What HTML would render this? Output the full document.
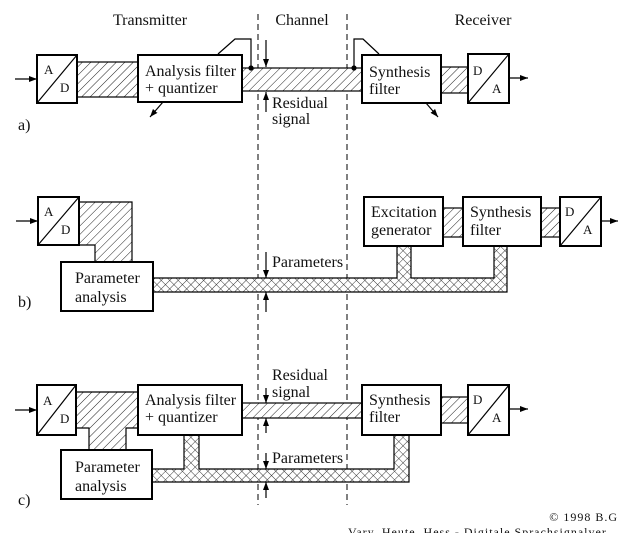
<!DOCTYPE html>
<html><head><meta charset="utf-8"><style>
html,body{margin:0;padding:0;background:#fff;}
svg{display:block;}
text{font-family:"Liberation Serif",serif;fill:#111;}
</style></head><body>
<svg width="618" height="533" viewBox="0 0 618 533" xmlns="http://www.w3.org/2000/svg">
<defs>
<pattern id="h" width="6" height="6" patternUnits="userSpaceOnUse" patternTransform="rotate(45)">
<rect width="6" height="6" fill="#fff"/><line x1="0" y1="0" x2="0" y2="6" stroke="#222" stroke-width="1"/></pattern>
<pattern id="x" width="6" height="6" patternUnits="userSpaceOnUse" patternTransform="rotate(45)">
<rect width="6" height="6" fill="#fff"/><line x1="0" y1="0" x2="0" y2="6" stroke="#222" stroke-width="0.9"/><line x1="0" y1="0" x2="6" y2="0" stroke="#222" stroke-width="0.9"/></pattern>
<marker id="ar" markerWidth="8" markerHeight="6" refX="8" refY="3" orient="auto" markerUnits="userSpaceOnUse"><path d="M0,0 L8,3 L0,6 z" fill="#000"/></marker>
</defs>

<text x="150" y="25" font-size="16" text-anchor="middle">Transmitter</text>
<text x="302" y="25" font-size="16" text-anchor="middle">Channel</text>
<text x="483" y="25" font-size="16" text-anchor="middle">Receiver</text>

<line x1="258" y1="14" x2="258" y2="505" stroke="#000" stroke-width="1" stroke-dasharray="6,4"/>
<line x1="347" y1="14" x2="347" y2="505" stroke="#000" stroke-width="1" stroke-dasharray="6,4"/>

<g stroke="#000" stroke-width="1.2">
<!-- a -->
<rect x="77" y="62" width="62" height="35" fill="url(#h)"/>
<rect x="242" y="68" width="120" height="23" fill="url(#h)"/>
<rect x="441" y="67" width="27" height="26" fill="url(#h)"/>
<rect x="37" y="55" width="40" height="48" fill="#fff" stroke-width="2"/>
<line x1="37" y1="103" x2="77" y2="55"/>
<rect x="138" y="55" width="104" height="47" fill="#fff" stroke-width="2"/>
<rect x="362" y="55" width="79" height="48" fill="#fff" stroke-width="2"/>
<rect x="468" y="54" width="41" height="49" fill="#fff" stroke-width="2"/>
<line x1="468" y1="103" x2="509" y2="54"/>
<line x1="15" y1="79" x2="37" y2="79" marker-end="url(#ar)"/>
<line x1="509" y1="78" x2="528" y2="78" marker-end="url(#ar)"/>
<polyline points="218,54 235,39 251,39 251,68" fill="none"/>
<circle cx="251" cy="68" r="2" fill="#000"/>
<polyline points="354,68 354,39 363,39 379,54" fill="none"/>
<circle cx="354" cy="68" r="2" fill="#000"/>
<line x1="163" y1="102" x2="150" y2="117" marker-end="url(#ar)"/>
<line x1="426" y1="103" x2="438" y2="117" marker-end="url(#ar)"/>
<line x1="266" y1="40" x2="266" y2="67" marker-end="url(#ar)"/>
<line x1="266" y1="112" x2="266" y2="92" marker-end="url(#ar)"/>

<!-- b -->
<path d="M79,202 H132 V262 H95 V245 H79 Z" fill="url(#h)"/>
<path d="M153,278 H397 V245 H411 V278 H494 V245 H507 V292 H153 Z" fill="url(#x)"/>
<rect x="443" y="208" width="20" height="29" fill="url(#h)"/>
<rect x="541" y="208" width="19" height="29" fill="url(#h)"/>
<rect x="38" y="197" width="41" height="48" fill="#fff" stroke-width="2"/>
<line x1="38" y1="245" x2="79" y2="197"/>
<rect x="61" y="262" width="92" height="49" fill="#fff" stroke-width="2"/>
<rect x="364" y="197" width="79" height="49" fill="#fff" stroke-width="2"/>
<rect x="463" y="197" width="78" height="49" fill="#fff" stroke-width="2"/>
<rect x="560" y="197" width="41" height="49" fill="#fff" stroke-width="2"/>
<line x1="560" y1="246" x2="601" y2="197"/>
<line x1="16" y1="221" x2="38" y2="221" marker-end="url(#ar)"/>
<line x1="601" y1="221" x2="618" y2="221" marker-end="url(#ar)"/>
<line x1="266" y1="252" x2="266" y2="278" marker-end="url(#ar)"/>
<line x1="266" y1="312" x2="266" y2="292" marker-end="url(#ar)"/>

<!-- c -->
<path d="M76,392 H138 V428 H126 V450 H89 V428 H76 Z" fill="url(#h)"/>
<rect x="241" y="403" width="121" height="15" fill="url(#h)"/>
<rect x="441" y="397" width="27" height="26" fill="url(#h)"/>
<path d="M152,469 H184 V435 H199 V469 H394 V435 H409 V482 H152 Z" fill="url(#x)"/>
<rect x="37" y="385" width="39" height="50" fill="#fff" stroke-width="2"/>
<line x1="37" y1="435" x2="76" y2="385"/>
<rect x="138" y="385" width="104" height="50" fill="#fff" stroke-width="2"/>
<rect x="61" y="450" width="91" height="49" fill="#fff" stroke-width="2"/>
<rect x="362" y="385" width="79" height="50" fill="#fff" stroke-width="2"/>
<rect x="468" y="385" width="41" height="50" fill="#fff" stroke-width="2"/>
<line x1="468" y1="435" x2="509" y2="385"/>
<line x1="15" y1="410" x2="37" y2="410" marker-end="url(#ar)"/>
<line x1="509" y1="409" x2="528" y2="409" marker-end="url(#ar)"/>
<line x1="266" y1="388" x2="266" y2="403" marker-end="url(#ar)"/>
<line x1="266" y1="433" x2="266" y2="418" marker-end="url(#ar)"/>
<line x1="266" y1="453" x2="266" y2="469" marker-end="url(#ar)"/>
<line x1="266" y1="498" x2="266" y2="482" marker-end="url(#ar)"/>
</g>

<g font-size="16">
<text x="44" y="74" font-size="13">A</text><text x="60" y="92" font-size="13">D</text>
<text x="145" y="76">Analysis filter</text><text x="145" y="93">+ quantizer</text>
<text x="369" y="77">Synthesis</text><text x="369" y="94">filter</text>
<text x="473" y="75" font-size="13">D</text><text x="492" y="93" font-size="13">A</text>
<text x="272" y="108">Residual</text><text x="272" y="124">signal</text>
<text x="18" y="130">a)</text>

<text x="44" y="216" font-size="13">A</text><text x="61" y="234" font-size="13">D</text>
<text x="75" y="283">Parameter</text><text x="75" y="302">analysis</text>
<text x="371" y="217">Excitation</text><text x="371" y="235">generator</text>
<text x="470" y="217">Synthesis</text><text x="470" y="235">filter</text>
<text x="565" y="216" font-size="13">D</text><text x="583" y="234" font-size="13">A</text>
<text x="272" y="267">Parameters</text>
<text x="18" y="307">b)</text>

<text x="43" y="405" font-size="13">A</text><text x="60" y="423" font-size="13">D</text>
<text x="145" y="405">Analysis filter</text><text x="145" y="422">+ quantizer</text>
<text x="369" y="405">Synthesis</text><text x="369" y="422">filter</text>
<text x="473" y="404" font-size="13">D</text><text x="492" y="422" font-size="13">A</text>
<text x="272" y="380">Residual</text><text x="272" y="397">signal</text>
<text x="272" y="463">Parameters</text>
<text x="75" y="472">Parameter</text><text x="75" y="491">analysis</text>
<text x="18" y="505">c)</text>
</g>
<text x="618" y="521" font-size="12" text-anchor="end" letter-spacing="1">© 1998 B.G</text>
<text x="348" y="536" font-size="12" letter-spacing="1">Vary, Heute, Hess - Digitale Sprachsignalver</text>
</svg>
</body></html>
